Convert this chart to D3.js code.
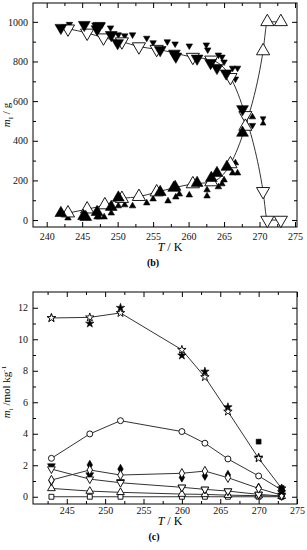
<!DOCTYPE html>
<html>
<head>
<meta charset="utf-8">
<script src="https://cdn.jsdelivr.net/npm/d3@7"></script>
<style>
  body { margin: 0; background: #fff; }
  svg { display: block; font-family: "Liberation Serif", "DejaVu Serif", serif; }
</style>
</head>
<body>
<div id="chart"></div>
<script>
// ---- panel (b) : mass vs T ----
const bOpenDown = [[243,965],[245.7,944],[248,920],[250.6,900],[253,875],[255.5,862],[260.6,822],[263.2,808],[265.9,720],[268,528],[270.5,145],[271.1,0],[273,0]];
const bOpenUp = [[243,35],[245.7,55],[248.2,76],[250.6,108],[253,118],[255.5,141],[260.6,182],[263.2,192],[265.9,283],[268,472],[270.5,853],[271.1,1000],[273,1000]];
const bFilledDown = [[242,970],[245.3,985],[247.1,963],[247.4,980],[249.1,934],[250,893],[256,858],[258,840],[258.2,825],[261.2,815],[263.1,793],[264,768],[265.3,740],[267.6,560]];
const bFilledUp = [[242,35],[245.2,20],[245.5,15],[247.1,40],[249.1,66],[250.1,113],[256,141],[257.9,162],[258.1,167],[261.2,187],[263.2,212],[264,237],[265.4,268],[267.6,440]];
const bSmallDown = [[243.2,988],[246.8,985],[247.8,985],[249,970],[250.1,935],[251,930],[252.1,935],[254.1,918],[255,895],[257,900],[258.1,889],[260.1,879],[262.5,884],[262.7,859],[264.2,833],[264.7,823],[265,798],[266.2,767],[266.9,767],[266.6,712],[269,478]];
const bSmallUp = [[243,10],[247.1,15],[247.4,15],[248.1,15],[249.1,35],[250.1,71],[251,76],[252.1,71],[254.1,86],[255,106],[257.1,96],[258.2,116],[258.7,131],[260.1,126],[262.6,152],[262.6,121],[264.2,167],[264.7,182],[265,202],[266.2,237],[266.9,237],[266.6,288],[269,520]];
const bHourglass = [[270.5,500]];

// ---- panel (c) : molality vs T ----
const cTemps = [243, 248, 252, 260, 263, 266, 270, 273];
const cStarOpen     = [11.35, 11.39, 11.67, 9.33, 7.6, 5.41, 2.44, 0.53];
const cStarFilled   = [11.35, 11.0, 12.0, 8.97, 7.95, 5.69, 2.5, 0.3];
const cCircleOpen   = [2.44, 3.99, 4.83, 4.14, 3.4, 2.4, 1.32, 0.43];
const cDiamondOpen  = [1.06, 1.7, 1.38, 1.49, 1.63, 1.21, 0.53, 0.1];
const cDiamondFill  = [1.02, 2.02, 1.76, 1.23, 1.34, 1.38, 0.57, 0.2];
const cTriDownOpen  = [1.76, 1.12, 0.89, 0.6, 0.47, 0.36, 0.15, 0.05];
const cTriDownFill  = [1.95, 1.38, 0.95, 0.6, 0.47, 0.36, 0.15, 0.1];
const cTriUpOpen    = [0.53, 0.36, 0.28, 0.17, 0.15, 0.1, 0.07, 0.03];
const cSquareOpen   = [0, 0, 0, 0, 0, 0, 0, 0];
const cSquareFillT  = [270, 273];
const cSquareFill   = [3.5, 0.55];

const svg = d3.select("#chart").append("svg")
    .attr("width", 307)
    .attr("height", 550);

// frame + inward ticks on all four sides
function drawFrame(x, y, xMajor, xMinor, yMajor, yMinor, xPad) {
    const [x0, x1] = x.range(), [y1, y0] = y.range();
    const g = svg.append("g");
    const axes = [
        [d3.axisBottom(x), y1, xMajor, true], [d3.axisTop(x), y0, xMajor, false],
        [d3.axisLeft(y), x0, yMajor, true], [d3.axisRight(y), x1, yMajor, false]
    ];
    axes.forEach(function([ax, pos, ticks, labels], i) {
        const horiz = i < 2;
        const a = g.append("g")
            .attr("transform", horiz ? "translate(0," + pos + ")" : "translate(" + pos + ",0)")
            .call(ax.tickValues(ticks).tickSize(-5).tickPadding(horiz ? xPad : 5)
                .tickFormat(labels ? d3.format("d") : ""))
            .attr("font-family", "Liberation Serif, serif");
        a.select(".domain").remove();
        a.selectAll("text").attr("font-size", 10).attr("fill", "#111");
        const minor = horiz ? xMinor : yMinor;
        const m = g.append("g")
            .attr("transform", horiz ? "translate(0," + pos + ")" : "translate(" + pos + ",0)")
            .call(ax.tickValues(minor).tickSize(-3).tickFormat(""));
        m.select(".domain").remove();
    });
    g.append("rect")
        .attr("x", x0).attr("y", y0)
        .attr("width", x1 - x0).attr("height", y1 - y0)
        .attr("fill", "none").attr("stroke", "#000").attr("stroke-width", 1);
}

function marks(x, y, pts, type, size, filled, rot) {
    svg.append("g").selectAll("path")
        .data(pts).enter().append("path")
        .attr("d", d3.symbol().type(type).size(size))
        .attr("transform", function(d) {
            return "translate(" + x(d[0]) + "," + y(d[1]) + ")" + (rot ? " rotate(180)" : "");
        })
        .attr("fill", filled ? "#000" : "#fff")
        .attr("stroke", "#000")
        .attr("stroke-width", filled ? 0.6 : 0.9);
}

function curve(x, y, pts, c) {
    svg.append("path")
        .datum(pts)
        .attr("d", d3.line().x(d => x(d[0])).y(d => y(d[1])).curve(c))
        .attr("fill", "none")
        .attr("stroke", "#333")
        .attr("stroke-width", 1);
}

// ----- panel b -----
const xb = d3.scaleLinear().domain([238.07, 275.28]).range([33, 297]);
const yb = d3.scaleLinear().domain([-35, 1095]).range([227, 3]);

drawFrame(xb, yb, d3.range(240, 276, 5), d3.range(242.5, 275, 5),
    d3.range(0, 1001, 200), d3.range(100, 1000, 200), 6);

curve(xb, yb, bOpenDown, d3.curveMonotoneX);
curve(xb, yb, bOpenUp, d3.curveMonotoneX);

marks(xb, yb, bSmallDown, d3.symbolTriangle, 18, true, true);
marks(xb, yb, bSmallUp, d3.symbolTriangle, 18, true, false);
marks(xb, yb, bOpenDown, d3.symbolTriangle, 75, false, true);
marks(xb, yb, bOpenUp, d3.symbolTriangle, 75, false, false);
marks(xb, yb, bFilledDown, d3.symbolTriangle, 60, true, true);
marks(xb, yb, bFilledUp, d3.symbolTriangle, 60, true, false);
// hourglass: two small triangles tip to tip
marks(xb, yb.copy().range([227 - 2.5, 3 - 2.5]), bHourglass, d3.symbolTriangle, 14, true, true);
marks(xb, yb.copy().range([227 + 2.5, 3 + 2.5]), bHourglass, d3.symbolTriangle, 14, true, false);

const tb = svg.append("text").attr("x", 170).attr("y", 251)
    .attr("text-anchor", "middle").attr("font-size", 12);
tb.append("tspan").attr("font-style", "italic").text("T");
tb.append("tspan").text(" / K");

const lb = svg.append("text")
    .attr("transform", "translate(10,115) rotate(-90)")
    .attr("text-anchor", "middle").attr("font-size", 11);
lb.append("tspan").attr("font-style", "italic").text("m");
lb.append("tspan").attr("font-size", 7).attr("dy", 3).text("I");
lb.append("tspan").attr("dy", -3).text(" / g");

svg.append("text").attr("x", 153).attr("y", 266)
    .attr("text-anchor", "middle").attr("font-size", 10).attr("font-weight", "bold")
    .text("(b)");

// ----- panel c -----
const xc = d3.scaleLinear().domain([240.6, 275.0]).range([33, 297]);
const yc = d3.scaleLinear().domain([-0.46, 13.0]).range([504, 292]);

drawFrame(xc, yc, d3.range(245, 276, 5), d3.range(242.5, 275, 5),
    d3.range(0, 13, 2), d3.range(1, 13, 2), 3);

const zip = vals => cTemps.map((t, i) => [t, vals[i]]);
[cStarOpen, cCircleOpen, cDiamondOpen, cTriDownOpen, cTriUpOpen, cSquareOpen].forEach(function(v) {
    curve(xc, yc, zip(v), d3.curveLinear);
});

marks(xc, yc, zip(cSquareOpen), d3.symbolSquare, 24, false, false);
marks(xc, yc, zip(cTriUpOpen), d3.symbolTriangle, 26, false, false);
marks(xc, yc, zip(cTriDownFill), d3.symbolTriangle, 26, true, true);
marks(xc, yc, zip(cTriDownOpen), d3.symbolTriangle, 26, false, true);
marks(xc, yc, zip(cDiamondFill), d3.symbolDiamond, 26, true, false);
marks(xc, yc, zip(cDiamondOpen), d3.symbolDiamond, 26, false, false);
marks(xc, yc, zip(cCircleOpen), d3.symbolCircle, 28, false, false);
marks(xc, yc, zip(cStarFilled), d3.symbolStar, 22, true, false);
marks(xc, yc, zip(cStarOpen), d3.symbolStar, 22, false, false);
marks(xc, yc, cSquareFillT.map((t, i) => [t, cSquareFill[i]]), d3.symbolSquare, 24, true, false);

const tc = svg.append("text").attr("x", 170).attr("y", 525)
    .attr("text-anchor", "middle").attr("font-size", 12);
tc.append("tspan").attr("font-style", "italic").text("T");
tc.append("tspan").text(" / K");

const lc = svg.append("text")
    .attr("transform", "translate(10,392) rotate(-90)")
    .attr("text-anchor", "middle").attr("font-size", 11);
lc.append("tspan").attr("font-style", "italic").text("m");
lc.append("tspan").attr("font-size", 7).attr("dy", 3).text("i");
lc.append("tspan").attr("dy", -3).text(" /mol kg");
lc.append("tspan").attr("font-size", 7).attr("dy", -4).text("-1");

svg.append("text").attr("x", 154).attr("y", 540)
    .attr("text-anchor", "middle").attr("font-size", 10).attr("font-weight", "bold")
    .text("(c)");
</script>
</body>
</html>
